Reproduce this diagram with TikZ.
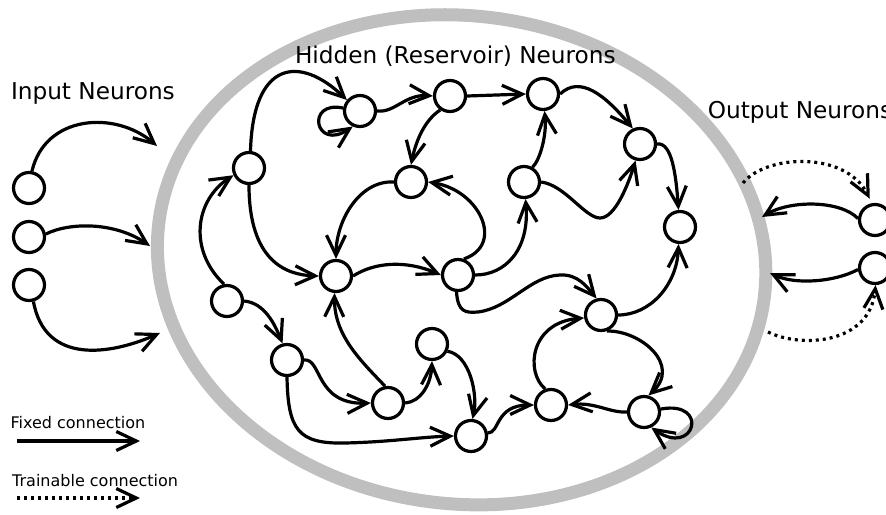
\documentclass[tikz,border=0pt]{standalone}
\usepackage{fontspec}
\setmainfont{DejaVu Sans}
\usetikzlibrary{arrows.meta}
\definecolor{rimgray}{RGB}{191,191,191}
\begin{document}
\begin{tikzpicture}[x=1pt,y=-1pt,
  neuron/.style={circle,draw=black,fill=white,line width=3.2pt,minimum size=31pt,inner sep=0pt},
  link/.style={line width=3.2pt,-{Straight Barb[length=20pt,width=19pt]}},
  trainable/.style={link,dash pattern=on 3pt off 4pt},
  title/.style={anchor=base west,inner sep=0pt,font=\fontsize{23.2}{27}\selectfont},
  legendtext/.style={anchor=base west,inner sep=0pt,font=\fontsize{16}{19}\selectfont}]
\useasboundingbox (0,0) rectangle (886,514);
\clip (0,0) rectangle (886,514);

% reservoir boundary
\draw[rimgray,line width=13pt,rotate around={-7:(461.6,259.8)}]
  (461.6,259.8) ellipse [x radius=305, y radius=244];

% labels
\node[title] (tin) at (10.8,99) {Input Neurons};
\node[title] (thid) at (294.8,63) {Hidden (Reservoir) Neurons};
\node[title] (tout) at (707.7,118.5) {Output Neurons};
\node[legendtext] (tfix) at (10.4,428) {Fixed connection};
\node[legendtext] (ttrn) at (12,486) {Trainable connection};

% input neurons
\node[neuron] (I1) at (29,188) {};
\node[neuron] (I2) at (29,237) {};
\node[neuron] (I3) at (29,285) {};

% reservoir neurons
\node[neuron] (A) at (249,168) {};
\node[neuron] (B) at (360,111) {};
\node[neuron] (C) at (450,96) {};
\node[neuron] (D) at (543,94) {};
\node[neuron] (E) at (411,182) {};
\node[neuron] (F) at (524,182) {};
\node[neuron] (G) at (640,144) {};
\node[neuron] (H) at (680,227) {};
\node[neuron] (J) at (336,276) {};
\node[neuron] (K) at (458,275) {};
\node[neuron] (L) at (227,301) {};
\node[neuron] (M) at (287,360) {};
\node[neuron] (N) at (432,344) {};
\node[neuron] (O) at (388,403) {};
\node[neuron] (P) at (471,436) {};
\node[neuron] (Q) at (601,315) {};
\node[neuron] (R) at (551,405) {};
\node[neuron] (S) at (644,412) {};

% output neurons
\node[neuron] (O1) at (875,220) {};
\node[neuron] (O2) at (875,268) {};

% free ends on the reservoir rim and legend
\coordinate (in1) at (157,146);
\coordinate (in2) at (150,246);
\coordinate (in3) at (160,333);
\coordinate (out1) at (762,217);
\coordinate (out2) at (770,273);
\coordinate (rd1) at (743,183);
\coordinate (rd2) at (768,332);
\coordinate (fx0) at (17,441);
\coordinate (fx1) at (140,441);
\coordinate (tr0) at (17,498);
\coordinate (tr1) at (140,498);

% input connections
\draw[link] (I1.80) .. controls (45,115) and (115,110) .. (in1);
\draw[link] (I2.10) .. controls (70,222) and (115,222) .. (in2);
\draw[link] (I3.-75) .. controls (45,365) and (110,355) .. (in3);

% reservoir connections
\draw[link] (A.85) .. controls (253,60) and (300,55) .. (B.140);
\draw[link] (B.170) .. controls (305,100) and (315,152) .. (B.245);
\draw[link] (B.east) .. controls (395,113) and (405,94) .. (C.west);
\draw[link] (C.east) -- (D.west);
\draw[link] (D.east) .. controls (580,75) and (605,95) .. (G.115);
\draw[link] (C.235) .. controls (425,120) and (416,140) .. (E.north);
\draw[link] (E.west) .. controls (360,180) and (336,220) .. (J.north);
\draw[link] (K.70) .. controls (505,245) and (480,190) .. (E.east);
\draw[link] (J.east) .. controls (375,262) and (406,260) .. (K.west);
\draw[link] (A.south) .. controls (249,260) and (285,275) .. (J.west);
\draw[link] (L.100) .. controls (188,250) and (195,200) .. (A.205);
\draw[link] (L.east) .. controls (265,303) and (275,325) .. (M.105);
\draw[link] (O.100) .. controls (360,360) and (334,335) .. (J.265);
\draw[link] (M.east) .. controls (322,358) and (315,405) .. (O.west);
\draw[link] (M.south) .. controls (288,430) and (298,444) .. (345,443)
  .. controls (390,442) and (420,437) .. (P.west);
\draw[link] (O.east) .. controls (420,402) and (431,385) .. (N.south);
\draw[link] (N.-25) .. controls (470,355) and (478,395) .. (P.85);
\draw[link] (P.10) .. controls (500,433) and (495,405) .. (R.west);
\draw[link] (S.west) .. controls (610,413) and (595,402) .. (R.east);
\draw[link] (R.110) .. controls (525,372) and (530,322) .. (Q.190);
\draw[link] (Q.-70) .. controls (640,330) and (682,365) .. (S.75);
\draw[link] (S.10) .. controls (710,400) and (695,458) .. (S.-65);
\draw[link] (F.60) .. controls (540,160) and (547,135) .. (D.-85);
\draw[link] (F.east) .. controls (565,185) and (585,218) .. (600,218)
  .. controls (615,218) and (628,185) .. (G.255);
\draw[link] (G.east) .. controls (672,142) and (676,175) .. (H.95);
\draw[link] (Q.east) .. controls (650,315) and (677,285) .. (H.-95);
\draw[link] (K.east) .. controls (505,275) and (530,250) .. (F.-85);
\draw[link] (K.-95) .. controls (458,312) and (465,313) .. (478,312)
  .. controls (510,308) and (530,276) .. (560,275)
  .. controls (578,274) and (587,287) .. (Q.105);

% output connections
\draw[link] (O1.175) .. controls (840,200) and (790,200) .. (out1);
\draw[link] (O2.185) .. controls (835,282) and (795,285) .. (out2);
\draw[trainable,shorten >=5pt] (rd1) .. controls (765,155) and (845,150) .. (O1.100);
\draw[trainable] (rd2) .. controls (800,348) and (870,345) .. (O2.-88);

% legend
\draw[link] (fx0) -- (fx1);
\draw[trainable] (tr0) -- (tr1);
\end{tikzpicture}
\end{document}
